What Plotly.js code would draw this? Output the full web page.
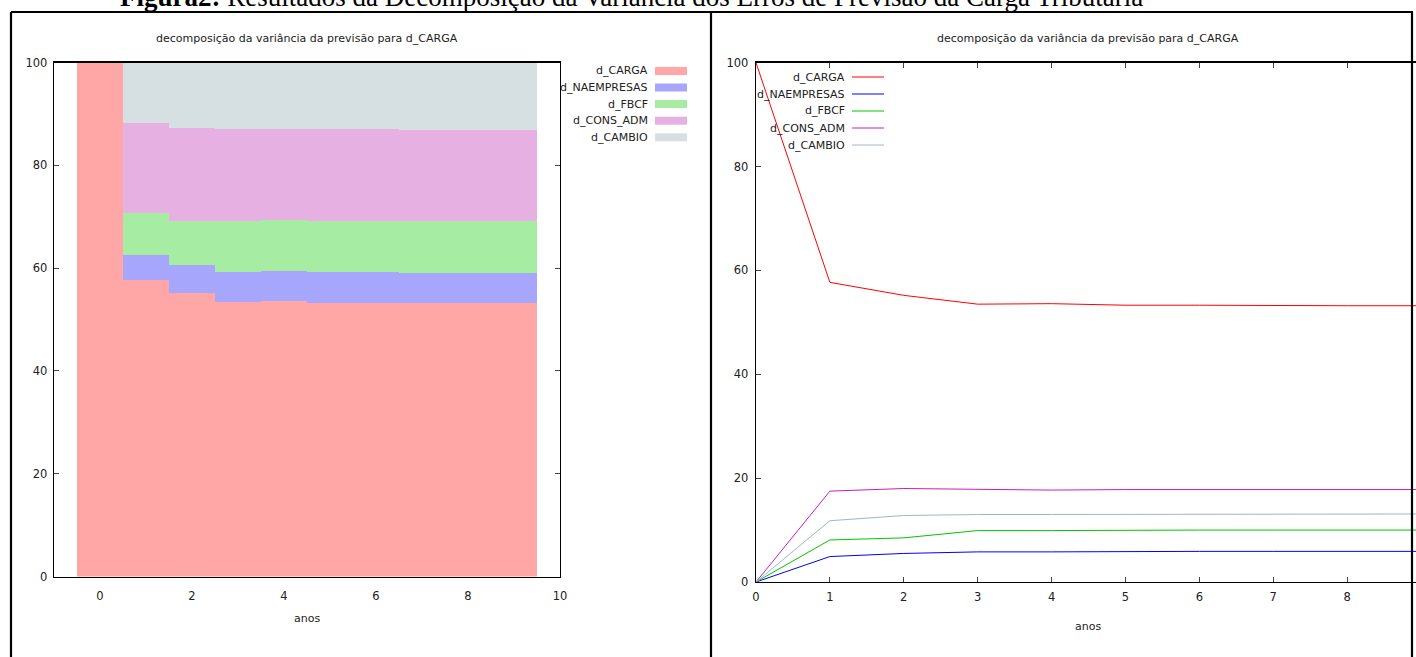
<!DOCTYPE html>
<html>
<head>
<meta charset="utf-8">
<script src="https://cdn.plot.ly/plotly-3.0.1.min.js"></script>
<style>
html,body{margin:0;padding:0;overflow:hidden;background:#fff;}
#chart{width:1440px;height:657px;}
</style>
</head>
<body>
<div id="chart"></div>
<script>
// ---- data ----
const periods = [0,1,2,3,4,5,6,7,8,9];
const seriesNames = ["d_CARGA","d_NAEMPRESAS","d_FBCF","d_CONS_ADM","d_CAMBIO"];
const d_CARGA      = [100,57.7,55.2,53.5,53.6,53.3,53.3,53.2,53.2,53.2];
const d_NAEMPRESAS = [0,4.9,5.5,5.8,5.8,5.9,5.9,5.9,5.9,5.9];
const d_FBCF       = [0,8.1,8.5,9.9,9.9,10.0,10.0,10.0,10.0,10.0];
const d_CONS_ADM   = [0,17.5,18.0,17.8,17.7,17.8,17.8,17.8,17.8,17.8];
const d_CAMBIO     = [0,11.8,12.8,13.0,13.0,13.0,13.0,13.1,13.1,13.1];
const rightTicks = [0,1,2,3,4,5,6,7,8];
const chartTitle = "decomposição da variância da previsão para d_CARGA";
const xTitle = "anos";
const caption = "<b>Figura2:</b> Resultados da Decomposição da Variância dos Erros de Previsão da Carga Tributária";

// ---- styling ----
const W = 1440, H = 657;
const px = x => x / W;
const py = y => 1 - y / H;
const fillColors = ["#ffa6a6","#a6a6fc","#a6eda3","#e6b0e3","#d6dfe2"];
const lineColors = ["#ff0000","#0000ff","#00c800","#c020c0","#a0b6c4"];
const values = [d_CARGA, d_NAEMPRESAS, d_FBCF, d_CONS_ADM, d_CAMBIO];
const FONT = "DejaVu Sans, sans-serif";

const traces = [];
values.forEach((v, i) => {
  traces.push({
    type: "bar", x: periods, y: v, name: seriesNames[i], width: 1,
    marker: {color: fillColors[i], line: {width: 0}},
    xaxis: "x", yaxis: "y", showlegend: false, hoverinfo: "skip"
  });
});
values.forEach((v, i) => {
  traces.push({
    type: "scatter", mode: "lines", x: periods, y: v, name: seriesNames[i],
    line: {color: lineColors[i], width: 1},
    xaxis: "x2", yaxis: "y2", showlegend: false, hoverinfo: "skip"
  });
});

const axBase = {
  showline: true, mirror: "ticks", linecolor: "#000", linewidth: 1.3,
  showgrid: false, zeroline: false, ticks: "inside", ticklen: 5,
  tickcolor: "#444", tickwidth: 1,
  tickfont: {family: FONT, size: 11.5, color: "#222"}, fixedrange: true
};

const annotations = [];
const shapes = [];
function note(text, x, y, opts) {
  annotations.push(Object.assign({text: text, x: px(x), y: py(y), xref: "paper", yref: "paper",
    xanchor: "center", yanchor: "middle", showarrow: false,
    font: {family: FONT, size: 11, color: "#222"}}, opts || {}));
}
// chart titles
note(chartTitle, 307, 38);
note(chartTitle, 1088, 38);
// x titles
note(xTitle, 307, 618);
note(xTitle, 1088, 626);
// caption (cut by top edge, as in the reference)
note(caption, 631, 14, {yanchor: "bottom",
  font: {family: "Liberation Serif, Times New Roman, serif", size: 27, color: "#000"}});

// legends
const legL = [71, 87.5, 104, 120.7, 137.3];
const legR = [77, 94, 111, 128, 145];
seriesNames.forEach((n, i) => {
  note(n, 650, legL[i], {xanchor: "right"});
  shapes.push({type: "rect", xref: "paper", yref: "paper",
    x0: px(655), x1: px(687), y0: py(legL[i] - 4), y1: py(legL[i] + 4),
    fillcolor: fillColors[i], line: {width: 0}});
  note(n, 847, legR[i], {xanchor: "right"});
  shapes.push({type: "line", xref: "paper", yref: "paper",
    x0: px(852), x1: px(884), y0: py(legR[i]), y1: py(legR[i]),
    line: {color: lineColors[i], width: 1}});
});

// table borders
const bl = {color: "#000", width: 2.2};
shapes.push({type: "line", xref: "paper", yref: "paper", x0: px(11), x1: px(1413), y0: py(12), y1: py(12), line: bl});
shapes.push({type: "line", xref: "paper", yref: "paper", x0: px(11), x1: px(11), y0: py(12), y1: 0, line: bl});
shapes.push({type: "line", xref: "paper", yref: "paper", x0: px(711), x1: px(711), y0: py(12), y1: 0, line: bl});
shapes.push({type: "line", xref: "paper", yref: "paper", x0: px(1412), x1: px(1412), y0: py(12), y1: 0, line: bl});

const layout = {
  width: W, height: H, margin: {l: 0, r: 0, t: 0, b: 0},
  paper_bgcolor: "#fff", plot_bgcolor: "#fff",
  barmode: "stack", bargap: 0, showlegend: false,
  xaxis: Object.assign({}, axBase, {domain: [px(54), px(560)], range: [-1, 10], dtick: 2, tick0: 0,
    ticks: "", ticklabelstandoff: 8, anchor: "y"}),
  yaxis: Object.assign({}, axBase, {domain: [py(576.5), py(62.5)], range: [0, 100], dtick: 20,
    ticklabelstandoff: 3, anchor: "x"}),
  xaxis2: Object.assign({}, axBase, {domain: [px(756), px(1421)], range: [0, 9],
    tickmode: "array", tickvals: rightTicks, ticktext: rightTicks.map(String),
    ticklabelstandoff: 4, anchor: "y2"}),
  yaxis2: Object.assign({}, axBase, {domain: [py(582), py(62.7)], range: [0, 100], dtick: 20,
    ticklabelstandoff: 4, anchor: "x2"}),
  annotations: annotations, shapes: shapes
};

Plotly.newPlot("chart", traces, layout, {displayModeBar: false, staticPlot: true});
</script>
</body>
</html>
